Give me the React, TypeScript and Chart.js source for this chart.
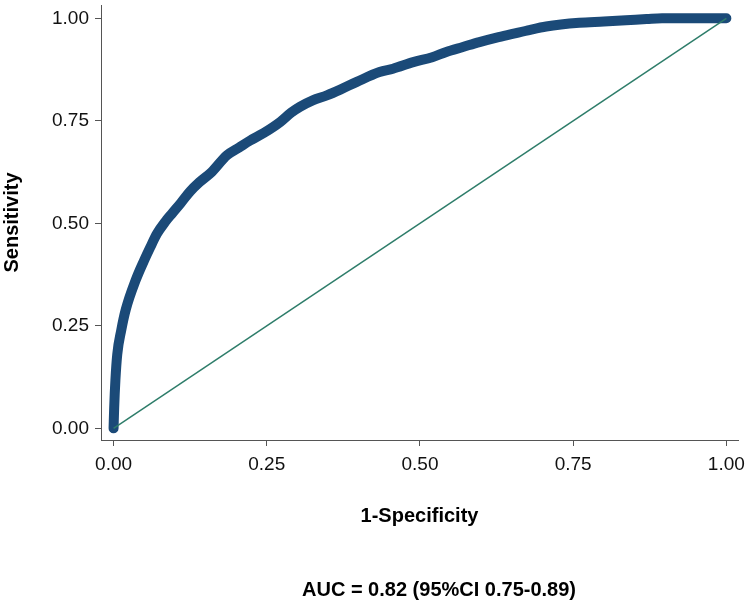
import React, { useEffect, useRef } from "react";
import { Chart, registerables } from "chart.js";

Chart.register(...registerables);

// ROC curve: 1-specificity (x) and sensitivity (y)
const fprValues = [
  0, 0.001, 0.003, 0.006, 0.0125, 0.02, 0.036, 0.05, 0.06, 0.071, 0.085, 0.0955,
  0.11, 0.125, 0.14, 0.16, 0.185, 0.205, 0.223, 0.245, 0.272, 0.29, 0.304, 0.325,
  0.348, 0.37, 0.397, 0.434, 0.456, 0.489, 0.52, 0.543, 0.57, 0.597, 0.625, 0.651,
  0.68, 0.706, 0.73, 0.76, 0.8, 0.836, 0.87, 0.895, 0.93, 0.96, 1.0,
];
const tprValues = [
  0, 0.05, 0.117, 0.18, 0.239, 0.29, 0.361, 0.41, 0.442, 0.475, 0.505, 0.524,
  0.55, 0.578, 0.6, 0.625, 0.666, 0.685, 0.702, 0.72, 0.747, 0.77, 0.784, 0.8,
  0.812, 0.826, 0.845, 0.869, 0.877, 0.893, 0.905, 0.918, 0.93, 0.942, 0.953, 0.962,
  0.972, 0.98, 0.985, 0.989, 0.992, 0.995, 0.998, 1.0, 1.0, 1.0, 1.0,
];
const diagonalX = [0, 1];
const diagonalY = [0, 1];
const tickValues = [0, 0.25, 0.5, 0.75, 1];
const xTitle = "1-Specificity";
const yTitle = "Sensitivity";
const aucLabel = "AUC = 0.82 (95%CI 0.75-0.89)";

const FAMILY = "'Liberation Sans', Arial, Helvetica, sans-serif";

// caption below the chart (Stata-style note)
const captionPlugin = {
  id: "aucCaption",
  afterDraw(chart: any) {
    const { ctx, chartArea } = chart;
    ctx.save();
    ctx.font = `bold 20px ${FAMILY}`;
    ctx.fillStyle = "#000";
    ctx.textAlign = "center";
    ctx.textBaseline = "middle";
    const cx = (chartArea.left + chartArea.right) / 2 + 19.5;
    ctx.fillText(aucLabel, cx, chart.height - 14);
    ctx.restore();
  },
};

export default function App() {
  const ref = useRef<HTMLCanvasElement>(null);

  useEffect(() => {
    document.body.style.margin = "0";
    const canvas = ref.current;
    if (!canvas) return;
    const tickFont = { family: FAMILY, size: 19 };
    const titleFont = { family: FAMILY, size: 20, weight: "bold" as const };
    const chart = new Chart(canvas, {
      type: "scatter",
      data: {
        datasets: [
          {
            data: diagonalX.map((x, i) => ({ x, y: diagonalY[i] })),
            showLine: true,
            borderColor: "#2e7d6a",
            borderWidth: 1.5,
            pointRadius: 0,
          },
          {
            data: fprValues.map((x, i) => ({ x, y: tprValues[i] })),
            showLine: true,
            borderColor: "#1b4a78",
            backgroundColor: "#1b4a78",
            borderWidth: 10,
            borderCapStyle: "round",
            borderJoinStyle: "round",
            pointRadius: 0,
            cubicInterpolationMode: "monotone",
          },
        ],
      },
      options: {
        animation: false,
        responsive: false,
        maintainAspectRatio: false,
        layout: { padding: { top: 5, right: 12, left: 0, bottom: 0 } },
        plugins: {
          legend: { display: false },
          tooltip: { enabled: false },
          title: { display: false },
        },
        scales: {
          x: {
            type: "linear",
            min: -0.0205,
            max: 1.019,
            afterBuildTicks: (s: any) => {
              s.ticks = tickValues.map((v) => ({ value: v }));
            },
            afterFit: (s: any) => {
              s.height = 164;
              s.paddingLeft = 0;
              s.paddingRight = 0;
            },
            grid: {
              drawOnChartArea: false,
              drawTicks: true,
              tickLength: 6,
              color: "#555",
              lineWidth: 1,
            },
            border: { display: true, color: "#555", width: 1 },
            ticks: {
              padding: 7,
              font: tickFont,
              color: "#111",
              autoSkip: false,
              maxRotation: 0,
              callback: (v: any) => Number(v).toFixed(2),
            },
            title: {
              display: true,
              text: xTitle,
              font: titleFont,
              color: "#000",
              padding: { top: 0, bottom: 76 },
            },
          },
          y: {
            type: "linear",
            min: -0.0285,
            max: 1.0324,
            afterBuildTicks: (s: any) => {
              s.ticks = tickValues.map((v) => ({ value: v }));
            },
            afterFit: (s: any) => {
              s.width = 101;
              s.paddingTop = 0;
              s.paddingBottom = 0;
            },
            grid: {
              drawOnChartArea: false,
              drawTicks: true,
              tickLength: 6,
              color: "#555",
              lineWidth: 1,
            },
            border: { display: true, color: "#555", width: 1 },
            ticks: {
              padding: 6,
              font: tickFont,
              color: "#111",
              autoSkip: false,
              callback: (v: any) => Number(v).toFixed(2),
            },
            title: {
              display: true,
              text: yTitle,
              font: titleFont,
              color: "#000",
              padding: { top: 0, bottom: 0 },
            },
          },
        },
      },
      plugins: [captionPlugin],
    });
    return () => chart.destroy();
  }, []);

  return (
    <div style={{ width: 750, height: 604 }}>
      <canvas ref={ref} width={750} height={604} style={{ display: "block" }} />
    </div>
  );
}
